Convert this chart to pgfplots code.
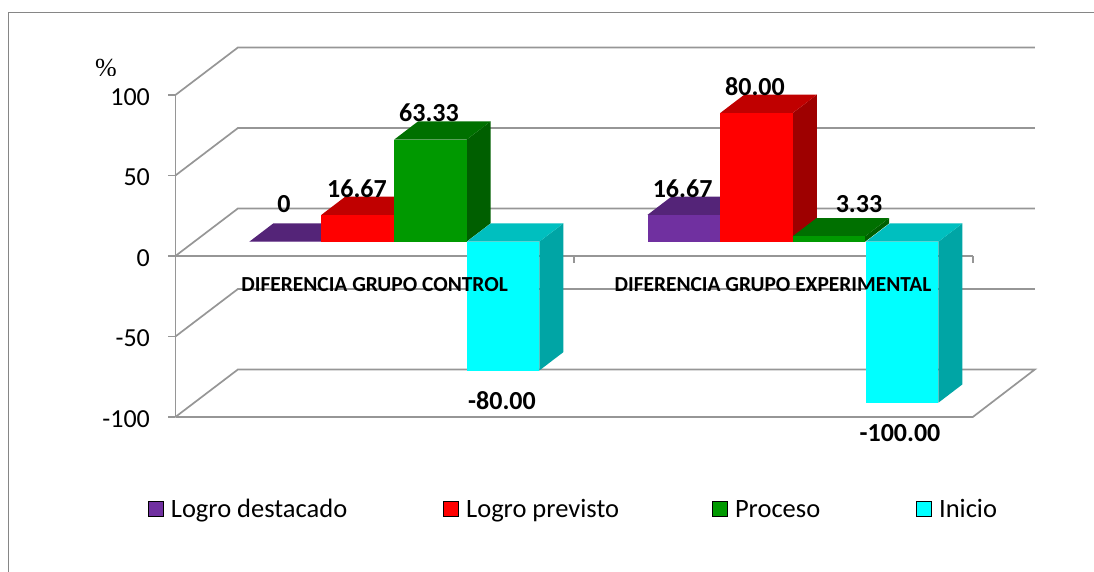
\documentclass[border=0pt]{standalone}
\usepackage{pgfplots}
\pgfplotsset{compat=1.18}
\usepackage{fontspec}
\setmainfont{Carlito}
\newfontfamily\serifpct{Liberation Serif}
\definecolor{gridg}{HTML}{969696}
\definecolor{frameg}{HTML}{868686}
\definecolor{pF}{HTML}{7030A0}\definecolor{pT}{HTML}{542478}\definecolor{pS}{HTML}{4A2070}
\definecolor{rF}{HTML}{FF0000}\definecolor{rT}{HTML}{C00000}\definecolor{rS}{HTML}{9E0000}
\definecolor{gF}{HTML}{009900}\definecolor{gT}{HTML}{007000}\definecolor{gS}{HTML}{005F00}
\definecolor{cF}{HTML}{00FFFF}\definecolor{cT}{HTML}{00BFBF}\definecolor{cS}{HTML}{00A5A5}
% #1 left edge, #2 value, #3 front, #4 top, #5 side
\newcommand{\threedbar}[5]{%
  \pgfmathsetmacro{\xa}{#1}%
  \pgfmathsetmacro{\xb}{#1+72.5}%
  \pgfmathsetmacro{\xc}{#1+72.5+24}%
  \pgfmathsetmacro{\xd}{#1+24}%
  \pgfmathsetmacro{\yt}{max(#2,0)+8.88}%
  \pgfmathsetmacro{\yb}{min(#2,0)+8.88}%
  \pgfmathsetmacro{\ytt}{\yt+11.37}%
  \pgfmathsetmacro{\ybb}{\yb+11.37}%
  \addplot[fill=#5,draw=none,forget plot] coordinates {(\xb,\yb)(\xb,\yt)(\xc,\ytt)(\xc,\ybb)} -- cycle;
  \addplot[fill=#4,draw=none,forget plot] coordinates {(\xa,\yt)(\xb,\yt)(\xc,\ytt)(\xd,\ytt)} -- cycle;
  \addplot[fill=#3,draw=none,forget plot] coordinates {(\xa,\yb)(\xb,\yb)(\xb,\yt)(\xa,\yt)} -- cycle;
}
\begin{document}
\begin{tikzpicture}
\begin{axis}[
  scale only axis, width=797.4pt, height=322pt,
  at={(0,0)}, anchor=south west,
  xmin=175.4, xmax=972.8, ymin=-100, ymax=100,
  clip=false,
  axis x line=middle, axis y line=left,
  axis line style={-,gridg,line width=1.7pt},
  xtick={175.4,574,972.8}, xticklabels={,,},
  ytick={-100,-50,0,50,100},
  tick align=outside,
  major tick length=7pt,
  tick style={gridg,line width=1.4pt},
  /pgf/number format/assume math mode=true,
  tick label style={font=\fontsize{26}{26}\selectfont,black},
  yticklabel style={xshift=-15pt,yshift=-2pt},
  legend style={at={(rel axis cs:-0.03436,-0.2941)},anchor=west,draw=none,fill=none,inner sep=0pt,outer sep=0pt,
    font=\fontsize{26.5}{26.5}\selectfont,legend columns=4,
    /tikz/every odd column/.append style={column sep=5.5pt},
    /tikz/column 2/.append style={column sep=94pt},
    /tikz/column 4/.append style={column sep=91pt},
    /tikz/column 6/.append style={column sep=94pt},
    /tikz/nodes={text depth=7pt,text height=18pt}},
  legend image code/.code={\fill[#1] (0pt,-4.5pt) rectangle (15pt,10.5pt);},
  legend cell align=left,
]
% walls
\addplot[gridg,line width=1.7pt,forget plot] coordinates {(175.4,100)(237.9,129.5)(1034.8,129.5)};
\addplot[gridg,line width=1.7pt,forget plot] coordinates {(175.4,50)(237.9,79.5)(1034.8,79.5)};
\addplot[gridg,line width=1.7pt,forget plot] coordinates {(175.4,0)(237.9,29.5)(1034.8,29.5)};
\addplot[gridg,line width=1.7pt,forget plot] coordinates {(175.4,-50)(237.9,-20.5)(1034.8,-20.5)};
\addplot[gridg,line width=1.7pt,forget plot] coordinates {(175.4,-100)(237.9,-70.5)(1034.8,-70.5)(972.8,-100)(175.4,-100)};
% frame
\addplot[frameg,line width=1pt,forget plot] coordinates {(1094,151.2)(8.2,151.2)(8.2,-196.3)};
% bars
\threedbar{249.3}{0}{pF}{pT}{pS}
\threedbar{321.4}{16.67}{rF}{rT}{rS}
\threedbar{394}{63.33}{gF}{gT}{gS}
\threedbar{466.8}{-80}{cF}{cT}{cS}
\threedbar{647.5}{16.67}{pF}{pT}{pS}
\threedbar{720.4}{80}{rF}{rT}{rS}
\threedbar{792.6}{3.33}{gF}{gT}{gS}
\threedbar{865.9}{-100}{cF}{cT}{cS}
% labels
\def\lab{\fontsize{26}{26}\selectfont\bfseries}
\node[font=\lab] at (axis cs:284,32.3) {0};
\node[font=\lab] at (axis cs:357,41.6) {16.67};
\node[font=\lab] at (axis cs:429,88.8) {63.33};
\node[font=\lab] at (axis cs:502,-89.9) {-80.00};
\node[font=\lab] at (axis cs:682.6,41.6) {16.67};
\node[font=\lab] at (axis cs:755,105.2) {80.00};
\node[font=\lab] at (axis cs:859,32.3) {3.33};
\node[font=\lab] at (axis cs:900,-109.9) {-100.00};
\def\cat{\fontsize{21.4}{21.4}\selectfont\bfseries}
\node[font=\cat] at (axis cs:374.6,-17.6) {DIFERENCIA GRUPO CONTROL};
\node[font=\cat] at (axis cs:772.9,-17.6) {DIFERENCIA GRUPO EXPERIMENTAL};
\node[font=\serifpct\fontsize{26}{26}\selectfont] at (axis cs:106,116.8) {\%};
\fill[white] (axis cs:90,111.8) rectangle (axis cs:122,107.5);
% legend
\addlegendimage{fill=pF}\addlegendentry{Logro destacado}
\addlegendimage{fill=rF}\addlegendentry{Logro previsto}
\addlegendimage{fill=gF}\addlegendentry{Proceso}
\addlegendimage{fill=cF}\addlegendentry{Inicio}
\end{axis}
\pgfresetboundingbox
\path[use as bounding box] (-175.4pt,-155pt) rectangle (918.6pt,417pt);
\end{tikzpicture}
\end{document}
